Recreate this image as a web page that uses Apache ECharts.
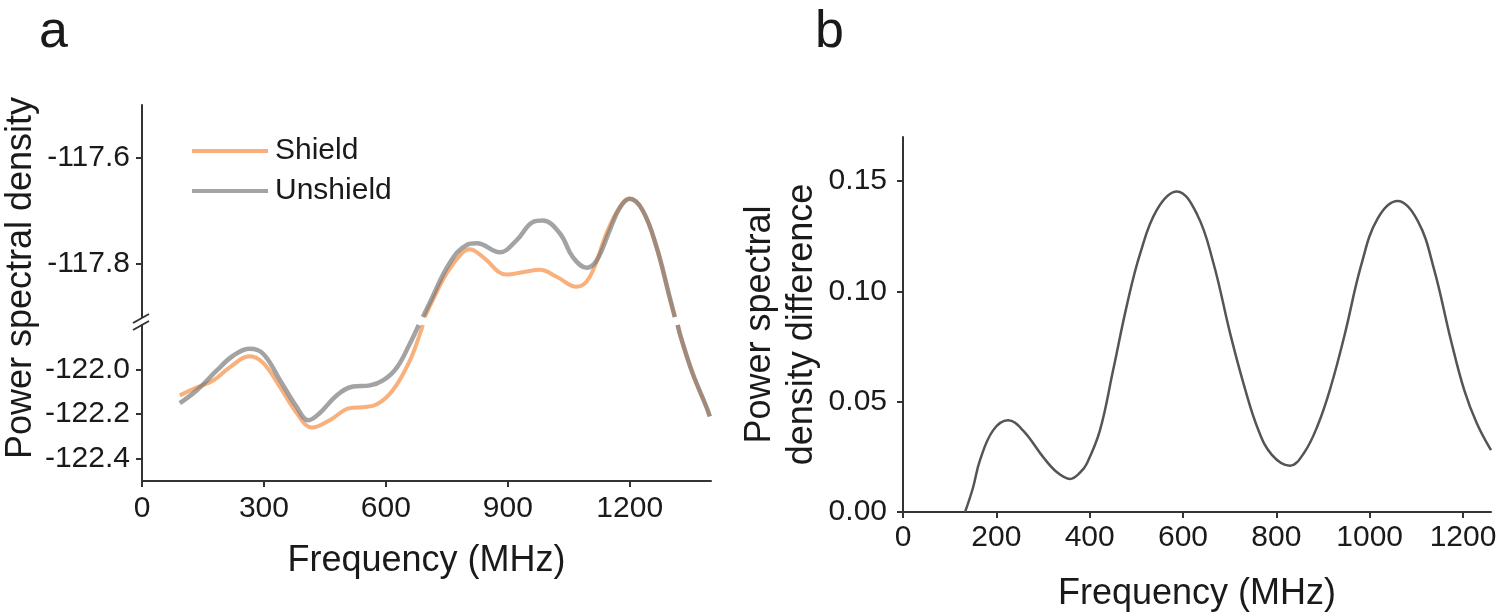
<!DOCTYPE html>
<html>
<head>
<meta charset="utf-8">
<script src="https://cdn.jsdelivr.net/npm/echarts@6/dist/echarts.min.js"></script>
<style>html,body{margin:0;padding:0;background:#fff}#c{width:1500px;height:616px}</style>
</head>
<body>
<div id="c"></div>
<script>
// ---- Panel a data (frequency MHz, power spectral density) ----
const shieldFreq = [93,135,175,216,265,298,340,381,418,462,511,544,578,617,659,684,691,
  696,708,750,789,806,839,897,940,979,1020,1069,1102,1143,1175,1200,1232,1266,1298,1311,
  1318,1325,1355,1389,1397];
const shieldPSD = [-122.116,-122.08,-122.049,-121.99,-121.94,-121.97,-122.08,-122.196,-122.26,-122.227,-122.173,-122.169,-122.156,-122.093,-121.96,-121.84,-121.80,
  -117.90,-117.88,-117.817,-117.778,-117.772,-117.787,-117.82,-117.815,-117.811,-117.824,-117.843,-117.824,-117.742,-117.693,-117.677,-117.699,-117.768,-117.862,-117.90,
  -121.80,-121.85,-122.018,-122.169,-122.21];
const unshieldFreq = [93,135,184,224,265,298,340,381,409,437,479,519,561,593,627,659,681,
  691,708,757,799,824,880,922,961,986,1028,1060,1094,1119,1151,1175,1200,1232,1266,1298,1311,
  1318,1325,1355,1389,1397];
const unshieldPSD = [-122.151,-122.093,-122.004,-121.938,-121.907,-121.929,-122.049,-122.169,-122.227,-122.196,-122.116,-122.076,-122.071,-122.049,-121.991,-121.884,-121.80,
  -117.90,-117.873,-117.798,-117.764,-117.761,-117.778,-117.755,-117.721,-117.718,-117.742,-117.787,-117.807,-117.793,-117.736,-117.695,-117.677,-117.699,-117.768,-117.862,-117.90,
  -121.80,-121.85,-122.018,-122.169,-122.21];
const aXTicks = [0,300,600,900,1200];
const aUpperTicks = [-117.8,-117.6];
const aLowerTicks = [-122.4,-122.2,-122.0];

// ---- Panel b data (frequency MHz, PSD difference) ----
const diffFreq = [133,150,165,193,225,257,300,330,358,380,394,422,450,480,508,544,587,630,665,701,730,760,790,829,860,890,917,946,982,1017,1060,1103,1138,1174,1203,1230,1260];
const diffValue = [0,0.011,0.0235,0.037,0.0416,0.037,0.025,0.018,0.015,0.018,0.022,0.037,0.064,0.094,0.117,0.137,0.1453,0.135,0.113,0.081,0.058,0.038,0.026,0.021,0.027,0.040,0.057,0.080,0.112,0.133,0.141,0.132,0.110,0.078,0.055,0.040,0.028];
const bXTicks = [0,200,400,600,800,1000,1200];
const bYTicks = [0,0.05,0.10,0.15];

const FONT = "'Liberation Sans', Arial, Helvetica, sans-serif";
const TXT = '#1a1a1a';
const AX = '#333';
const ORANGE = '#F8B07C';
const GRAY = 'rgba(120,120,120,0.68)';

function upper(fr, vals){ return fr.map((f,i)=> vals[i] > -120 ? [f, vals[i]] : [f, '-']); }
function lower(fr, vals){ return fr.map((f,i)=> vals[i] < -120 ? [f, vals[i]] : [f, '-']); }

const axisLineStyle = {show:true, lineStyle:{color:AX, width:2}};
const tickStyle = {show:true, length:6, lineStyle:{color:AX, width:2}};
const labelBase = {color:TXT, fontFamily:FONT, fontSize:30};

const chart = echarts.init(document.getElementById('c'), null, {renderer:'canvas'});

const option = {
  backgroundColor:'#fff',
  animation:false,
  title:[
    {text:'a', left:34, top:2, textStyle:{fontFamily:FONT, fontSize:52, fontWeight:'normal', color:TXT}},
    {text:'b', left:810, top:2, textStyle:{fontFamily:FONT, fontSize:52, fontWeight:'normal', color:TXT}}
  ],
  legend:{
    data:['Shield','Unshield'], orient:'vertical', left:187, top:131,
    icon:'rect', itemWidth:76, itemHeight:4, itemGap:10,
    textStyle:{fontFamily:FONT, fontSize:30, color:TXT, padding:[0,0,0,2], lineHeight:30}
  },
  grid:[
    {left:142, top:105, width:569, height:212, outerBoundsMode:'none'},
    {left:142, top:325, width:569, height:156, outerBoundsMode:'none'},
    {left:903, top:137, width:588, height:375, outerBoundsMode:'none'}
  ],
  xAxis:[
    {gridIndex:0, type:'value', min:0, max:1400, show:false},
    {gridIndex:1, type:'value', min:0, max:1400,
      name:'Frequency (MHz)', nameLocation:'middle', nameGap:62,
      nameTextStyle:{fontFamily:FONT, fontSize:36, color:TXT},
      axisLine:axisLineStyle, axisTick:Object.assign({customValues:aXTicks}, tickStyle),
      axisLabel:Object.assign({customValues:aXTicks, margin:13, formatter:v=>String(v)}, labelBase),
      splitLine:{show:false}},
    {gridIndex:2, type:'value', min:0, max:1260,
      name:'Frequency (MHz)', nameLocation:'middle', nameGap:64,
      nameTextStyle:{fontFamily:FONT, fontSize:36, color:TXT},
      axisLine:axisLineStyle, axisTick:Object.assign({customValues:bXTicks}, tickStyle),
      axisLabel:Object.assign({customValues:bXTicks, margin:11, formatter:v=>String(v)}, labelBase),
      splitLine:{show:false}}
  ],
  yAxis:[
    {gridIndex:0, type:'value', min:-117.9, max:-117.5,
      axisLine:axisLineStyle, axisTick:Object.assign({customValues:aUpperTicks}, tickStyle),
      axisLabel:Object.assign({customValues:aUpperTicks, margin:12, formatter:v=>Number(v).toFixed(1)}, labelBase),
      splitLine:{show:false}},
    {gridIndex:1, type:'value', min:-122.5, max:-121.8,
      axisLine:axisLineStyle, axisTick:Object.assign({customValues:aLowerTicks}, tickStyle),
      axisLabel:Object.assign({customValues:aLowerTicks, margin:12, formatter:v=>Number(v).toFixed(1)}, labelBase),
      splitLine:{show:false}},
    {gridIndex:2, type:'value', min:0, max:0.17,
      name:'Power spectral\ndensity difference', nameLocation:'middle', nameGap:80,
      nameTextStyle:{fontFamily:FONT, fontSize:36, color:TXT, lineHeight:42},
      axisLine:axisLineStyle, axisTick:Object.assign({customValues:bYTicks}, tickStyle),
      axisLabel:Object.assign({customValues:bYTicks, margin:16, formatter:v=>Number(v).toFixed(2)}, labelBase),
      splitLine:{show:false}}
  ],
  series:[
    {name:'Shield', type:'line', xAxisIndex:0, yAxisIndex:0, data:upper(shieldFreq, shieldPSD),
      smooth:0.4, showSymbol:false, symbol:'none', clip:true, lineStyle:{color:ORANGE, width:4}, itemStyle:{color:ORANGE}},
    {name:'Shield', type:'line', xAxisIndex:1, yAxisIndex:1, data:lower(shieldFreq, shieldPSD),
      smooth:0.4, showSymbol:false, symbol:'none', clip:true, lineStyle:{color:ORANGE, width:4}, itemStyle:{color:ORANGE}},
    {name:'Unshield', type:'line', xAxisIndex:0, yAxisIndex:0, data:upper(unshieldFreq, unshieldPSD),
      smooth:0.4, showSymbol:false, symbol:'none', clip:true, lineStyle:{color:GRAY, width:4.5}, itemStyle:{color:GRAY}},
    {name:'Unshield', type:'line', xAxisIndex:1, yAxisIndex:1, data:lower(unshieldFreq, unshieldPSD),
      smooth:0.4, showSymbol:false, symbol:'none', clip:true, lineStyle:{color:GRAY, width:4.5}, itemStyle:{color:GRAY}},
    {name:'Difference', type:'line', xAxisIndex:2, yAxisIndex:2,
      data:diffFreq.map((f,i)=>[f, diffValue[i]]),
      smooth:0.4, showSymbol:false, symbol:'none', clip:true, lineStyle:{color:'#555', width:2.5}}
  ]
};
chart.setOption(option);

// Decorations: axis-break marks and rotated y-axis name for panel a
const pTop = chart.convertToPixel({gridIndex:0}, [0, -117.9]);
const pBot = chart.convertToPixel({gridIndex:1}, [0, -121.8]);
const pA1 = chart.convertToPixel({gridIndex:0}, [0, -117.5]);
const pA0 = chart.convertToPixel({gridIndex:1}, [0, -122.5]);
const ax = pTop[0];
const yMid = (pA1[1] + pA0[1]) / 2 - 15;
chart.setOption({
  graphic:[
    {type:'line', shape:{x1:ax-9, y1:pTop[1]+6, x2:ax+7, y2:pTop[1]-3}, style:{stroke:AX, lineWidth:2}},
    {type:'line', shape:{x1:ax-9, y1:pBot[1]+5, x2:ax+7, y2:pBot[1]-4}, style:{stroke:AX, lineWidth:2}},
    {type:'text', x:21, y:yMid, rotation:Math.PI/2,
      style:{text:'Power spectral density', fontFamily:FONT, fontSize:36, fill:TXT, textAlign:'center', textVerticalAlign:'middle'}}
  ]
});
</script>
</body>
</html>
